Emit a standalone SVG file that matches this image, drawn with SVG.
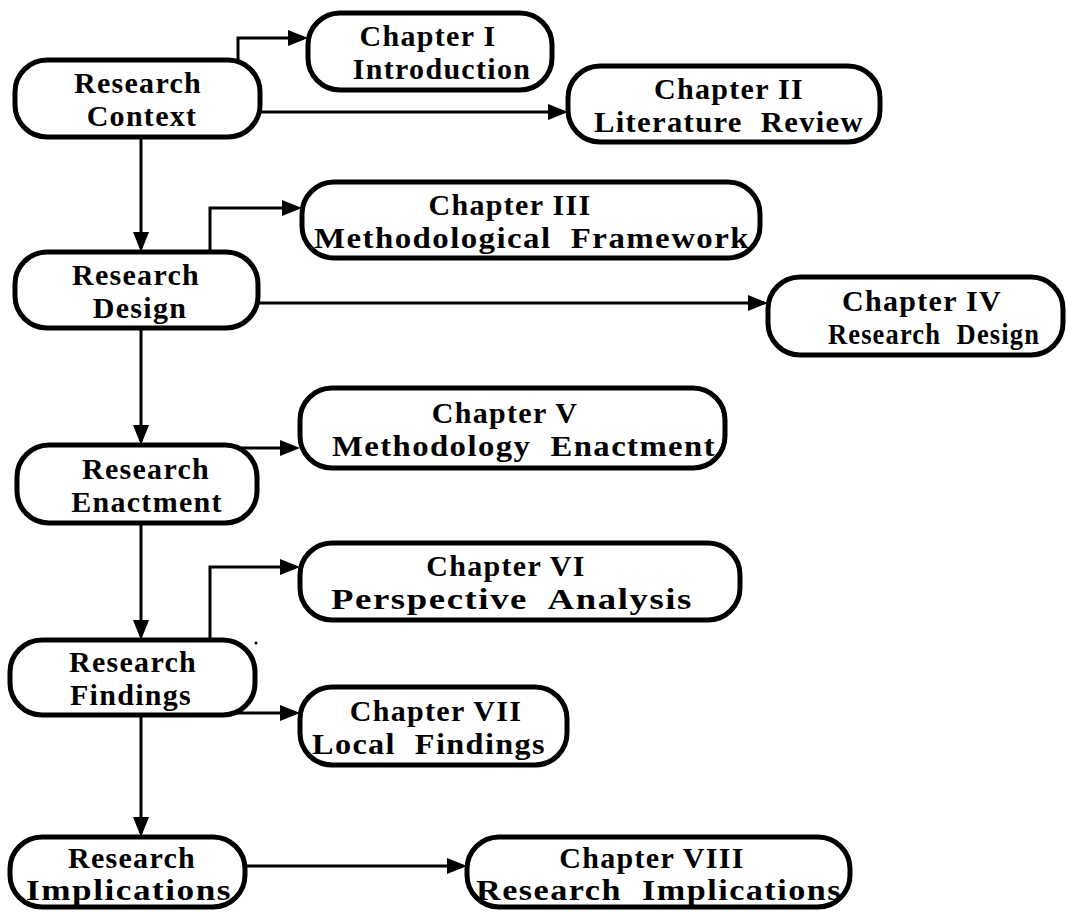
<svg xmlns="http://www.w3.org/2000/svg" width="1067" height="912" viewBox="0 0 1067 912">
<defs>
<style>
.box{fill:#fff;stroke:#000;stroke-width:5}
.t{font-family:"Liberation Serif","Times New Roman",serif;font-weight:bold;font-size:30px;letter-spacing:1.3px;text-anchor:middle;fill:#000;white-space:pre}
.c{fill:none;stroke:#000;stroke-width:3;marker-end:url(#ah)}
</style>
<marker id="ah" viewBox="0 0 20 16" refX="16" refY="8" markerWidth="20" markerHeight="16" markerUnits="userSpaceOnUse" orient="auto">
<path d="M0,0 L20,8 L0,16 z" fill="#000"/>
</marker>
</defs>
<rect width="1067" height="912" fill="#fff"/>
<g id="connectors">
<path class="c" d="M238,60 V38 H304"/>
<path class="c" d="M260,112 H564"/>
<path class="c" d="M141,137 V248"/>
<path class="c" d="M210,252 V208 H298"/>
<path class="c" d="M258,303 H764"/>
<path class="c" d="M141,328 V441"/>
<path class="c" d="M238,448 H296"/>
<path class="c" d="M141,523 V636"/>
<path class="c" d="M210,640 V567 H296"/>
<path class="c" d="M230,713 H296"/>
<path class="c" d="M141,715 V833"/>
<path class="c" d="M245,866 H463"/>
</g>
<g id="research-context">
<rect class="box" x="15" y="60" width="245" height="77" rx="32"/>
<text class="t" x="138" y="93">Research</text>
<text class="t" x="142" y="126">Context</text>
</g>
<g id="chapter-1">
<rect class="box" x="308" y="13" width="244" height="77" rx="32"/>
<text class="t" x="428" y="46">Chapter I</text>
<text class="t" x="442" y="79">Introduction</text>
</g>
<g id="chapter-2">
<rect class="box" x="568" y="66" width="312" height="76" rx="32"/>
<text class="t" x="729" y="99">Chapter II</text>
<text class="t" x="729" y="132" textLength="270" lengthAdjust="spacingAndGlyphs">Literature  Review</text>
</g>
<g id="research-design">
<rect class="box" x="15" y="252" width="243" height="76" rx="32"/>
<text class="t" x="136" y="285">Research</text>
<text class="t" x="140" y="318">Design</text>
</g>
<g id="chapter-3">
<rect class="box" x="302" y="182" width="458" height="76" rx="32"/>
<text class="t" x="510" y="215">Chapter III</text>
<text class="t" x="532" y="248" textLength="436" lengthAdjust="spacingAndGlyphs">Methodological  Framework</text>
</g>
<g id="chapter-4">
<rect class="box" x="768" y="277" width="295" height="78" rx="32"/>
<text class="t" x="922" y="311">Chapter IV</text>
<text class="t" x="934" y="344" textLength="212" lengthAdjust="spacingAndGlyphs">Research  Design</text>
</g>
<g id="research-enactment">
<rect class="box" x="17" y="445" width="240" height="78" rx="32"/>
<text class="t" x="146" y="479">Research</text>
<text class="t" x="147" y="512">Enactment</text>
</g>
<g id="chapter-5">
<rect class="box" x="300" y="388" width="425" height="80" rx="32"/>
<text class="t" x="505" y="423">Chapter V</text>
<text class="t" x="524" y="456" textLength="384" lengthAdjust="spacingAndGlyphs">Methodology  Enactment</text>
</g>
<g id="chapter-6">
<rect class="box" x="300" y="543" width="440" height="77" rx="32"/>
<text class="t" x="506" y="576">Chapter VI</text>
<text class="t" x="512" y="609" textLength="362" lengthAdjust="spacingAndGlyphs">Perspective  Analysis</text>
</g>
<g id="research-findings">
<rect class="box" x="10" y="640" width="245" height="75" rx="32"/>
<text class="t" x="133" y="672">Research</text>
<text class="t" x="131" y="705">Findings</text>
</g>
<g id="chapter-7">
<rect class="box" x="300" y="687" width="267" height="78" rx="32"/>
<text class="t" x="436" y="721">Chapter VII</text>
<text class="t" x="429" y="754" textLength="234" lengthAdjust="spacingAndGlyphs">Local  Findings</text>
</g>
<g id="research-implications">
<rect class="box" x="10" y="837" width="235" height="70" rx="32"/>
<text class="t" x="132" y="868">Research</text>
<text class="t" x="129" y="900" textLength="206" lengthAdjust="spacingAndGlyphs">Implications</text>
</g>
<g id="chapter-8">
<rect class="box" x="467" y="837" width="383" height="70" rx="32"/>
<text class="t" x="652" y="868">Chapter VIII</text>
<text class="t" x="659" y="900" textLength="366" lengthAdjust="spacingAndGlyphs">Research  Implications</text>
</g>
<circle cx="256" cy="643" r="1.5" fill="#000"/>
</svg>
